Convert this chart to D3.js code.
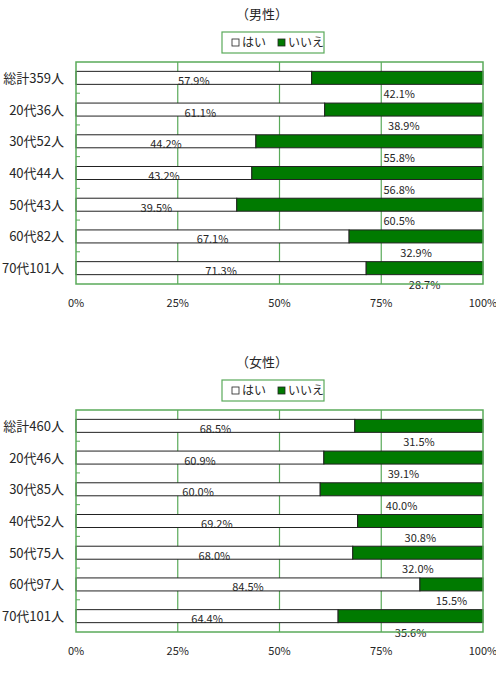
<!DOCTYPE html>
<html>
<head>
<meta charset="utf-8">
<script src="https://cdnjs.cloudflare.com/ajax/libs/d3/7.8.5/d3.min.js"></script>
<style>
  body { margin: 0; background: #fff; }
  svg { display: block; font-family: "Noto Sans CJK JP", sans-serif; }
</style>
</head>
<body>
<div id="chart"></div>
<script>
var seriesNames = ['はい', 'いいえ'];
var xTicks = [0, 25, 50, 75, 100];

var maleTitle = '（男性）';
var maleCats = ['総計359人', '20代36人', '30代52人', '40代44人', '50代43人', '60代82人', '70代101人'];
var maleYes = [57.9, 61.1, 44.2, 43.2, 39.5, 67.1, 71.3];
var maleNo  = [42.1, 38.9, 55.8, 56.8, 60.5, 32.9, 28.7];

var femaleTitle = '（女性）';
var femaleCats = ['総計460人', '20代46人', '30代85人', '40代52人', '50代75人', '60代97人', '70代101人'];
var femaleYes = [68.5, 60.9, 60.0, 69.2, 68.0, 84.5, 64.4];
var femaleNo  = [31.5, 39.1, 40.0, 30.8, 32.0, 15.5, 35.6];

var W = 496, H = 684,
    green = '#007a00',
    gridGreen = '#5aaa5a',
    textColor = '#262626';

var svg = d3.select('#chart').append('svg')
    .attr('width', W)
    .attr('height', H);

var xScale = d3.scaleLinear().domain([0, 100]).range([76, 483]);

function panel(top, title, cats, yes, no) {
    var plotTop = top + 62, plotBottom = top + 284;
    var g = svg.append('g');

    var yScale = d3.scaleBand()
        .domain(cats)
        .range([plotTop, plotBottom])
        .paddingInner(0.59)
        .paddingOuter(0.295);

    // title
    g.append('text')
        .attr('x', 262).attr('y', top + 19)
        .attr('text-anchor', 'middle')
        .style('font-size', '13px')
        .style('fill', textColor)
        .text(title);

    // legend
    var leg = g.append('g').attr('transform', 'translate(222,' + (top + 32) + ')');
    leg.append('rect')
        .attr('width', 102).attr('height', 21)
        .style('fill', '#fff').style('stroke', gridGreen).style('stroke-width', 1.2);
    var items = leg.selectAll('g.item')
        .data(seriesNames)
        .enter().append('g')
        .attr('class', 'item')
        .attr('transform', function(d, i) { return 'translate(' + (10 + 46 * i) + ',0)'; });
    items.append('rect')
        .attr('y', 7).attr('width', 7).attr('height', 7)
        .style('fill', function(d, i) { return i === 0 ? '#fff' : green; })
        .style('stroke', '#222').style('stroke-width', 0.8);
    items.append('text')
        .attr('x', 10).attr('y', 15)
        .style('font-size', '12px')
        .style('fill', textColor)
        .text(function(d) { return d; });

    // plot background + grid
    g.append('rect')
        .attr('x', xScale(0)).attr('y', plotTop)
        .attr('width', xScale(100) - xScale(0)).attr('height', plotBottom - plotTop)
        .style('fill', '#fff');

    g.selectAll('line.grid')
        .data(xTicks.slice(1, -1))
        .enter().append('line')
        .attr('class', 'grid')
        .attr('x1', function(d) { return xScale(d); })
        .attr('x2', function(d) { return xScale(d); })
        .attr('y1', plotTop).attr('y2', plotBottom)
        .style('stroke', gridGreen).style('stroke-width', 1.2);

    // small inner ticks at band boundaries
    g.selectAll('line.ytick')
        .data(cats.slice(1))
        .enter().append('line')
        .attr('class', 'ytick')
        .attr('x1', xScale(0)).attr('x2', xScale(0) + 4)
        .attr('y1', function(d) { return yScale(d) - yScale.step() * 0.295 - 0.5; })
        .attr('y2', function(d) { return yScale(d) - yScale.step() * 0.295 - 0.5; })
        .style('stroke', gridGreen).style('stroke-width', 1);

    var rows = cats.map(function(c, i) { return {cat: c, yes: yes[i], no: no[i]}; });

    // bars
    var row = g.selectAll('g.row')
        .data(rows)
        .enter().append('g')
        .attr('class', 'row');

    row.append('rect')
        .attr('x', xScale(0))
        .attr('y', function(d) { return yScale(d.cat); })
        .attr('width', function(d) { return xScale(d.yes) - xScale(0); })
        .attr('height', yScale.bandwidth())
        .style('fill', '#fff').style('stroke', '#222').style('stroke-width', 1);

    row.append('rect')
        .attr('x', function(d) { return xScale(d.yes); })
        .attr('y', function(d) { return yScale(d.cat); })
        .attr('width', function(d) { return xScale(100) - xScale(d.yes); })
        .attr('height', yScale.bandwidth())
        .style('fill', green).style('stroke', '#222').style('stroke-width', 1);

    // value labels
    row.append('text')
        .attr('x', function(d) { return (xScale(0) + xScale(d.yes)) / 2; })
        .attr('y', function(d) { return yScale(d.cat) + yScale.bandwidth() + 0.5; })
        .attr('text-anchor', 'middle')
        .style('font-size', '11px')
        .style('fill', textColor)
        .text(function(d) { return d.yes.toFixed(1) + '%'; });

    row.append('text')
        .attr('x', function(d) {
            return Math.max((xScale(d.yes) + xScale(100)) / 2, xScale(75) + 18);
        })
        .attr('y', function(d) { return yScale(d.cat) + yScale.bandwidth() + 14; })
        .attr('text-anchor', 'middle')
        .style('font-size', '11px')
        .style('fill', textColor)
        .text(function(d) { return d.no.toFixed(1) + '%'; });

    // category labels
    g.selectAll('text.cat')
        .data(cats)
        .enter().append('text')
        .attr('class', 'cat')
        .attr('x', 64)
        .attr('y', function(d) { return yScale(d) + yScale.bandwidth() / 2 + 5; })
        .attr('text-anchor', 'end')
        .style('font-size', '13px')
        .style('fill', textColor)
        .text(function(d) { return d; });

    // frame
    g.append('rect')
        .attr('x', xScale(0)).attr('y', plotTop)
        .attr('width', xScale(100) - xScale(0)).attr('height', plotBottom - plotTop)
        .style('fill', 'none').style('stroke', gridGreen).style('stroke-width', 1.5);

    // x axis labels
    g.selectAll('text.xtick')
        .data(xTicks)
        .enter().append('text')
        .attr('class', 'xtick')
        .attr('x', function(d) { return xScale(d); })
        .attr('y', plotBottom + 23)
        .attr('text-anchor', 'middle')
        .style('font-size', '11px')
        .style('fill', textColor)
        .text(function(d) { return d + '%'; });
}

panel(0, maleTitle, maleCats, maleYes, maleNo);
panel(348, femaleTitle, femaleCats, femaleYes, femaleNo);
</script>
</body>
</html>
